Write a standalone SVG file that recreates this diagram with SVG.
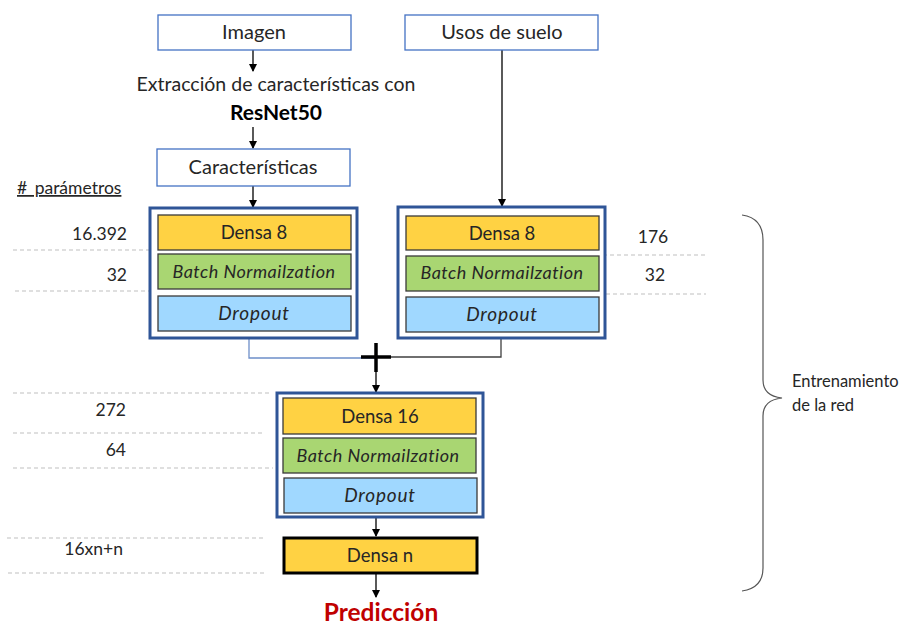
<svg xmlns="http://www.w3.org/2000/svg" width="901" height="625" viewBox="0 0 901 625">
<defs>
<marker id="ah" markerWidth="8" markerHeight="8" refX="7" refY="4" orient="auto" markerUnits="userSpaceOnUse">
<path d="M0,0 L8,4 L0,8 Z" fill="#000"/>
</marker>
<style>
text{font-family:Lato,"Liberation Sans",sans-serif;fill:#262626}
.in{fill:#fff;stroke:#4472C4;stroke-width:1.3}
.grp{fill:#fff;stroke:#2F5597;stroke-width:3}
.d{fill:#FFD243;stroke:#3a3a3a;stroke-width:1.3}
.b{fill:#A9D672;stroke:#3a3a3a;stroke-width:1.3}
.o{fill:#A0D8FF;stroke:#3a3a3a;stroke-width:1.3}
.t{font-size:20px;text-anchor:middle}
.td{font-size:18.5px;text-anchor:middle}
.ti{font-size:19px;text-anchor:middle;font-style:italic;letter-spacing:0.8px}
.tb{font-size:18px;text-anchor:middle;font-style:italic;letter-spacing:0.5px}
.n{font-size:17.5px;text-anchor:end}
.dash{stroke:#BFBFBF;stroke-width:1;stroke-dasharray:4,3;fill:none}
.ar{stroke:#000;stroke-width:1.3;fill:none;marker-end:url(#ah)}
.ln{stroke:#404040;stroke-width:1.3;fill:none}
</style>
</defs>
<rect width="901" height="625" fill="#fff"/>

<g id="params">
<text x="17" y="194" style="font-size:17.5px;text-decoration:underline;word-spacing:3px">#  parámetros</text>
<line class="dash" x1="13" y1="250" x2="152" y2="250"/>
<line class="dash" x1="15" y1="291" x2="150" y2="291"/>
<text class="n" x="127" y="240">16.392</text>
<text class="n" x="127" y="281">32</text>
<line class="dash" x1="603" y1="255" x2="705" y2="255"/>
<line class="dash" x1="606" y1="294" x2="706" y2="294"/>
<text x="653" y="243" style="font-size:17.5px;text-anchor:middle">176</text>
<text x="655" y="281" style="font-size:17.5px;text-anchor:middle">32</text>
<line class="dash" x1="13" y1="393" x2="272" y2="393"/>
<line class="dash" x1="13" y1="433" x2="265" y2="433"/>
<line class="dash" x1="13" y1="468" x2="273" y2="468"/>
<text class="n" x="126" y="416">272</text>
<text class="n" x="126" y="456">64</text>
<line class="dash" x1="7" y1="538" x2="266" y2="538"/>
<line class="dash" x1="8" y1="573" x2="267" y2="573"/>
<text class="n" x="123" y="555">16xn+n</text>
</g>

<g id="connectors">
<line class="ar" x1="253" y1="50" x2="253" y2="71"/>
<line class="ar" x1="253" y1="127" x2="253" y2="148"/>
<line class="ar" x1="253" y1="186" x2="253" y2="207"/>
<line class="ar" x1="502" y1="50" x2="502" y2="206"/>
<polyline class="ln" points="249,338 249,358 375,358" style="stroke:#6E8FC9"/>
<polyline class="ln" points="501,338 501,357 377,357"/>
<line x1="376" y1="343" x2="376" y2="372" stroke="#000" stroke-width="3.5"/>
<line x1="361" y1="357" x2="391" y2="357" stroke="#000" stroke-width="3.5"/>
<line class="ar" x1="376" y1="372" x2="376" y2="392"/>
<line class="ar" x1="376" y1="517" x2="376" y2="536"/>
<line class="ar" x1="376" y1="573" x2="376" y2="597"/>
</g>

<g id="imagen">
<rect class="in" x="158" y="15" width="193" height="35"/>
<text class="t" x="254" y="39">Imagen</text>
</g>
<g id="usos">
<rect class="in" x="405" y="15" width="193" height="35"/>
<text class="t" x="502" y="39">Usos de suelo</text>
</g>
<g id="extraccion">
<text x="276" y="91" style="font-size:19.5px;text-anchor:middle">Extracción de características con</text>
<text x="276" y="120" style="font-size:21px;text-anchor:middle;font-weight:bold;fill:#000">ResNet50</text>
</g>
<g id="caracteristicas">
<rect class="in" x="157" y="149" width="193" height="37"/>
<text class="t" x="253" y="174">Características</text>
</g>

<g id="rama1">
<rect class="grp" x="150" y="208" width="207" height="130"/>
<rect class="d" x="158" y="215" width="193" height="35"/>
<text class="td" x="254" y="239">Densa 8</text>
<rect class="b" x="158" y="254" width="193" height="35"/>
<text class="tb" x="254" y="278">Batch Normailzation</text>
<rect class="o" x="158" y="296" width="193" height="35"/>
<text class="ti" x="254" y="320">Dropout</text>
</g>

<g id="rama2">
<rect class="grp" x="398" y="207" width="207" height="131"/>
<rect class="d" x="406" y="216" width="193" height="34"/>
<text class="td" x="502" y="240">Densa 8</text>
<rect class="b" x="406" y="256" width="193" height="35"/>
<text class="tb" x="502" y="279">Batch Normailzation</text>
<rect class="o" x="406" y="297" width="193" height="35"/>
<text class="ti" x="502" y="321">Dropout</text>
</g>

<g id="bloque3">
<rect class="grp" x="277" y="393" width="206" height="124"/>
<rect class="d" x="283" y="398" width="193" height="36"/>
<text class="td" x="380" y="423">Densa 16</text>
<rect class="b" x="283" y="438" width="193" height="35"/>
<text class="tb" x="378" y="462">Batch Normailzation</text>
<rect class="o" x="284" y="478" width="193" height="35"/>
<text class="ti" x="380" y="502">Dropout</text>
</g>

<g id="densan">
<rect x="284" y="538" width="193" height="35" fill="#FFD243" stroke="#000" stroke-width="3"/>
<text class="td" x="380" y="562">Densa n</text>
</g>

<g id="prediccion">
<text x="381" y="621" style="font-size:24.5px;font-weight:bold;fill:#C00000;text-anchor:middle">Predicción</text>
</g>

<g id="entrenamiento">
<path d="M742,215 Q763,218 763,240 L763,380 Q763,396 782,398 Q763,400 763,416 L763,568 Q763,588 742,591" fill="none" stroke="#555" stroke-width="1.2"/>
<text x="792" y="387" style="font-size:16.5px">Entrenamiento</text>
<text x="792" y="411" style="font-size:16.5px">de la red</text>
</g>
</svg>
